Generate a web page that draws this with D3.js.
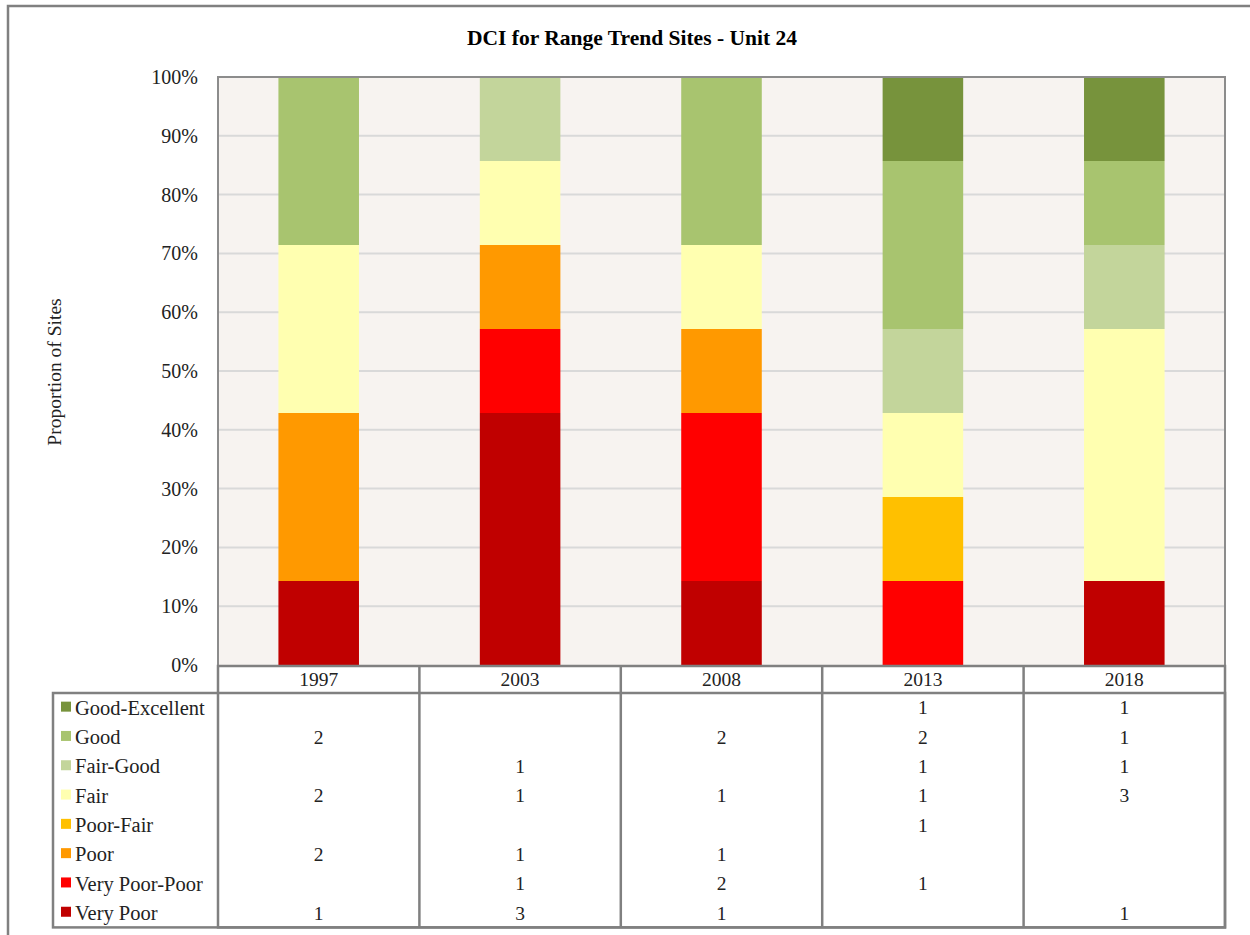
<!DOCTYPE html>
<html>
<head>
<meta charset="utf-8">
<script src="https://cdn.jsdelivr.net/npm/d3@7"></script>
<style>
  body { margin: 0; background: #fff; }
  svg { display: block; font-family: 'Liberation Serif', 'Times New Roman', serif; }
</style>
</head>
<body>
<div id="chart"></div>
<script>
var years = ['1997', '2003', '2008', '2013', '2018']
// top to bottom, as listed in the data table
var classes = ['Good-Excellent', 'Good', 'Fair-Good', 'Fair', 'Poor-Fair', 'Poor', 'Very Poor-Poor', 'Very Poor']
var colors = ['#77933c', '#a8c46f', '#c3d59b', '#ffffb0', '#ffc000', '#ff9900', '#ff0000', '#c00000']
var goodExcellent = [0, 0, 0, 1, 1]
var good = [2, 0, 2, 2, 1]
var fairGood = [0, 1, 0, 1, 1]
var fair = [2, 1, 1, 1, 3]
var poorFair = [0, 0, 0, 1, 0]
var poor = [2, 1, 1, 0, 0]
var veryPoorPoor = [0, 1, 2, 1, 0]
var veryPoor = [1, 3, 1, 0, 1]
var yTicks = [0, 0.1, 0.2, 0.3, 0.4, 0.5, 0.6, 0.7, 0.8, 0.9, 1]

var series = [goodExcellent, good, fairGood, fair, poorFair, poor, veryPoorPoor, veryPoor]

var rows = years.map(function (yr, i) {
  var r = { year: yr }
  var tot = 0
  classes.forEach(function (c, k) { tot += series[k][i] })
  classes.forEach(function (c, k) { r[c] = series[k][i] / tot })
  return r
})

var stack = d3.stack().keys(classes.slice().reverse())(rows)

var W = 1250, H = 935
var pLeft = 218, pRight = 1225, pTop = 77, pBottom = 665
var headH = 27, rowH = 29.3
var labelLeft = 53
var fs = 19.5

var svg = d3.select('#chart').append('svg').attr('width', W).attr('height', H)

// outer frame
svg.append('rect').attr('x', 8).attr('y', 6).attr('width', W).attr('height', H)
  .attr('fill', 'none').attr('stroke', '#808080').attr('stroke-width', 2.5)

svg.append('text').attr('x', 632).attr('y', 45).attr('text-anchor', 'middle')
  .attr('font-weight', 'bold').attr('font-size', 21.5).text('DCI for Range Trend Sites - Unit 24')

var x = d3.scaleBand().domain(years).range([pLeft, pRight]).paddingInner(0.6).paddingOuter(0.3)
var y = d3.scaleLinear().domain([0, 1]).range([pBottom, pTop])
var color = d3.scaleOrdinal().domain(classes).range(colors)

svg.append('rect').attr('x', pLeft).attr('y', pTop).attr('width', pRight - pLeft).attr('height', pBottom - pTop)
  .attr('fill', '#f7f3f0')

svg.selectAll('.grid').data(yTicks.slice(1, -1)).enter().append('line')
  .attr('x1', pLeft).attr('x2', pRight)
  .attr('y1', function (d) { return y(d) }).attr('y2', function (d) { return y(d) })
  .attr('stroke', '#d9d9d9').attr('stroke-width', 2)

var layers = svg.selectAll('.layer').data(stack).enter().append('g')
  .attr('fill', function (d) { return color(d.key) })

layers.selectAll('rect').data(function (d) { return d }).enter().append('rect')
  .attr('x', function (d) { return x(d.data.year) })
  .attr('width', x.bandwidth())
  .attr('y', function (d) { return y(d[1]) })
  .attr('height', function (d) { return y(d[0]) - y(d[1]) })

// plot border
svg.append('path').attr('d', 'M' + pLeft + ',' + pBottom + 'V' + pTop + 'H' + pRight + 'V' + pBottom)
  .attr('fill', 'none').attr('stroke', '#8c8c8c').attr('stroke-width', 2)

var yAxis = svg.append('g').attr('transform', 'translate(' + (pLeft - 17) + ',0)')
  .call(d3.axisLeft(y).tickValues(yTicks).tickFormat(d3.format('.0%')).tickSize(0))
yAxis.select('.domain').remove()
yAxis.selectAll('text').attr('font-size', 20).attr('font-family', 'Liberation Serif').attr('fill', '#222').attr('dy', '0.32em')

svg.append('text').attr('transform', 'translate(61,' + 372 + ') rotate(-90)')
  .attr('text-anchor', 'middle').attr('font-size', fs).attr('fill', '#222').text('Proportion of Sites')

// data table
var tableTop = pBottom + 1
var bodyTop = tableTop + headH
var tableBottom = bodyTop + rowH * classes.length
var step = (pRight - pLeft) / years.length
var col = d3.scaleBand().domain(years).range([pLeft, pRight])
var line = '#808080'

var tbl = svg.append('g').attr('fill', 'none').attr('stroke', line).attr('stroke-width', 2.5)
tbl.append('rect').attr('x', pLeft).attr('y', tableTop).attr('width', pRight - pLeft).attr('height', tableBottom - tableTop)
tbl.append('rect').attr('x', labelLeft).attr('y', bodyTop).attr('width', pRight - labelLeft).attr('height', tableBottom - bodyTop)
tbl.selectAll('.vl').data(years.slice(1)).enter().append('line')
  .attr('x1', function (d) { return col(d) }).attr('x2', function (d) { return col(d) })
  .attr('y1', tableTop).attr('y2', tableBottom)

svg.selectAll('.yr').data(years).enter().append('text')
  .attr('x', function (d) { return col(d) + step / 2 }).attr('y', tableTop + 20)
  .attr('text-anchor', 'middle').attr('font-size', fs).attr('fill', '#222').text(function (d) { return d })

var rowY = function (k) { return bodyTop + rowH * k + rowH / 2 }

var keys = svg.selectAll('.key').data(classes).enter().append('g')
  .attr('transform', function (d, k) { return 'translate(61,' + rowY(k) + ')' })
keys.append('rect').attr('x', 0).attr('y', -6).attr('width', 10).attr('height', 10)
  .attr('fill', function (d) { return color(d) })
keys.append('text').attr('x', 14).attr('y', 0).attr('dy', '0.35em').attr('font-size', 20.5).attr('fill', '#222')
  .text(function (d) { return d })

classes.forEach(function (c, k) {
  svg.selectAll('.v' + k).data(series[k]).enter().append('text')
    .attr('x', function (d, i) { return col(years[i]) + step / 2 })
    .attr('y', rowY(k)).attr('dy', '0.35em')
    .attr('text-anchor', 'middle').attr('font-size', fs).attr('fill', '#222')
    .text(function (d) { return d ? d : '' })
})
</script>
</body>
</html>
